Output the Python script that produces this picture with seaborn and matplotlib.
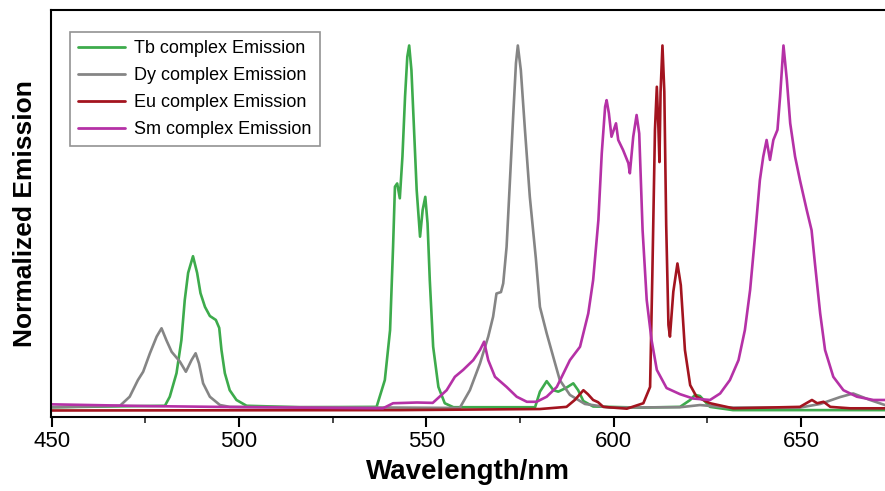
import numpy as np
import pandas as pd
import matplotlib
matplotlib.use("Agg")
import matplotlib.pyplot as plt
from matplotlib.ticker import MultipleLocator
import seaborn as sns

# ---------------- data ----------------
series_names = ["Tb complex Emission", "Dy complex Emission",
                "Eu complex Emission", "Sm complex Emission"]
series_colors = ["#3dab4c", "#858585", "#a3141f", "#b531a6"]

tb_x = [450, 480.2, 481.5, 483.3, 484.6, 485.5, 486.4, 487.7, 488.8, 489.7, 490.9,
        492.2, 493.8, 494.7, 495.3, 496.2, 497.5, 499.3, 502.0, 516.2, 536.7,
        538.9, 540.3, 541.1, 541.6, 542.2, 542.9, 543.6, 544.3, 544.9, 545.4,
        546.0, 546.7, 547.4, 548.3, 549.0, 549.7, 550.3, 550.9, 551.8, 553.2,
        554.9, 557.2, 579.0, 580.3, 582.1, 583.9, 585.2, 587.2, 589.2, 590.5,
        591.9, 594.5, 607.0, 617.7, 620.4, 621.7, 623.0, 625.7, 631.8, 672.4]
tb_y = [0.001, 0.005, 0.030, 0.095, 0.186, 0.297, 0.372, 0.418, 0.372, 0.316, 0.278,
        0.253, 0.242, 0.220, 0.159, 0.095, 0.048, 0.021, 0.005, 0.001, 0.002,
        0.076, 0.214, 0.444, 0.610, 0.619, 0.578, 0.693, 0.859, 0.969, 1.000,
        0.932, 0.767, 0.601, 0.472, 0.546, 0.582, 0.509, 0.352, 0.168, 0.057,
        0.012, 0.001, 0.001, 0.044, 0.073, 0.048, 0.044, 0.054, 0.067, 0.048,
        0.018, 0.003, 0.000, 0.002, 0.021, 0.035, 0.032, 0.002, -0.007, -0.007]

dy_x = [450, 468.2, 470.8, 473.0, 474.4, 476.2, 478.0, 479.3, 480.6, 482.0, 484.2,
        485.8, 487.3, 488.4, 489.3, 490.4, 492.2, 494.9, 497.5, 542.9, 558.9,
        561.6, 564.3, 566.5, 567.8, 568.7, 569.9, 570.5, 571.4, 572.3, 573.2,
        573.9, 574.4, 575.2, 576.3, 577.6, 579.2, 580.3, 582.1, 584.1, 585.6,
        588.3, 592.3, 599.0, 617.7, 623.0, 631.0, 649.7, 655.1, 660.4, 663.9,
        668.4, 672.4]
dy_y = [0.001, 0.005, 0.030, 0.076, 0.099, 0.150, 0.196, 0.219, 0.186, 0.154, 0.127,
        0.099, 0.131, 0.150, 0.122, 0.067, 0.030, 0.007, 0.002, 0.000, -0.001,
        0.048, 0.122, 0.196, 0.251, 0.315, 0.319, 0.343, 0.444, 0.628, 0.813,
        0.951, 1.000, 0.932, 0.767, 0.582, 0.413, 0.278, 0.205, 0.131, 0.076,
        0.035, 0.010, 0.000, 0.001, 0.007, 0.000, 0.000, 0.010, 0.029, 0.039,
        0.021, 0.007]

eu_x = [450, 542.9, 580.3, 587.4, 589.6, 591.9, 593.1, 594.5, 595.8, 597.2, 603.5,
        607.9, 609.7, 610.3, 611.0, 611.5, 611.9, 612.2, 612.5, 613.0, 613.5,
        614.0, 614.6, 615.0, 615.9, 617.0, 617.9, 619.0, 620.4, 622.1, 625.7,
        631.9, 649.7, 652.9, 654.3, 656.0, 657.8, 663.1, 672.4]
eu_y = [-0.008, -0.007, -0.004, 0.002, 0.021, 0.048, 0.037, 0.021, 0.015, 0.002, -0.003,
        0.012, 0.057, 0.366, 0.767, 0.886, 0.780, 0.678, 0.872, 1.000, 0.872,
        0.504, 0.228, 0.196, 0.320, 0.398, 0.338, 0.159, 0.062, 0.030, 0.012,
        -0.002, 0.002, 0.021, 0.012, 0.016, 0.002, -0.002, -0.002]

sm_x = [450, 476.2, 502.9, 538.4, 541.1, 547.5, 551.7, 555.4, 557.6, 559.8, 562.5,
        564.3, 565.4, 566.5, 568.3, 571.4, 574.1, 576.8, 579.4, 582.1, 584.8,
        588.3, 591.0, 593.2, 594.5, 595.9, 596.8, 597.7, 598.1, 598.7, 599.4,
        600.6, 601.2, 602.5, 603.9, 604.3, 605.2, 606.1, 606.8, 607.7, 608.8,
        610.1, 611.5, 614.1, 617.7, 621.2, 625.7, 628.4, 631.0, 633.3, 635.0,
        636.4, 637.7, 639.0, 639.9, 640.8, 641.7, 642.6, 643.7, 644.4, 645.3,
        646.2, 647.1, 648.4, 649.7, 651.5, 652.8, 653.7, 655.1, 656.4, 658.6,
        661.3, 664.9, 669.3, 672.4]
sm_y = [0.009, 0.004, 0.001, -0.002, 0.012, 0.014, 0.013, 0.048, 0.085, 0.104, 0.131,
        0.159, 0.182, 0.131, 0.085, 0.057, 0.030, 0.016, 0.016, 0.030, 0.057,
        0.131, 0.168, 0.260, 0.352, 0.518, 0.702, 0.831, 0.849, 0.813, 0.748,
        0.785, 0.739, 0.711, 0.675, 0.647, 0.748, 0.808, 0.757, 0.490, 0.297,
        0.186, 0.104, 0.054, 0.037, 0.025, 0.021, 0.039, 0.076, 0.131, 0.214,
        0.325, 0.472, 0.628, 0.693, 0.739, 0.684, 0.739, 0.767, 0.859, 1.000,
        0.905, 0.785, 0.693, 0.628, 0.546, 0.490, 0.398, 0.260, 0.159, 0.085,
        0.048, 0.030, 0.021, 0.021]

x_ticks = [450, 500, 550, 600, 650]
x_label = "Wavelength/nm"
y_label = "Normalized Emission"

# ---------------- build long-form table ----------------
frames = []
for name, xs, ys in zip(series_names, [tb_x, dy_x, eu_x, sm_x], [tb_y, dy_y, eu_y, sm_y]):
    frames.append(pd.DataFrame({"wavelength": xs, "emission": ys, "series": name}))
df = pd.concat(frames, ignore_index=True)

# ---------------- plot ----------------
sns.set_theme(style="white")
plt.rcParams["font.family"] = ["Liberation Sans", "DejaVu Sans"]

fig = plt.figure(figsize=(8.85, 4.91), dpi=100)
ax = fig.add_axes([51 / 885, 1 - 417 / 491, 1 - 51 / 885, (417 - 10) / 491])

sns.lineplot(data=df, x="wavelength", y="emission", hue="series",
             hue_order=series_names, palette=series_colors,
             sort=False, estimator=None, linewidth=1.9, ax=ax)

ax.set_xlim(449.8, 672.4)
ax.set_ylim(-0.026, 1.098)
ax.set_xticks(x_ticks)
ax.xaxis.set_minor_locator(MultipleLocator(25))
ax.set_yticks([])
ax.tick_params(axis="x", which="major", direction="out", length=7, width=1.5,
               bottom=True, labelsize=16, pad=3, colors="black")
ax.tick_params(axis="x", which="minor", direction="out", length=4, width=1.2, bottom=True)

for side in ["left", "bottom", "top"]:
    ax.spines[side].set_visible(True)
    ax.spines[side].set_color("black")
    ax.spines[side].set_linewidth(1.5)
ax.spines["right"].set_visible(False)

ax.set_xlabel(x_label, fontsize=20, fontweight="bold", labelpad=5, color="black")
ax.set_ylabel(y_label, fontsize=19, fontweight="bold", labelpad=10, color="black")

leg = ax.legend(loc="upper left", bbox_to_anchor=(19 / 834, 1 - 22 / 407),
                frameon=True, fancybox=False, edgecolor="#777777",
                prop={"size": 13},
                handlelength=2.6, handletextpad=0.5, labelspacing=0.55,
                borderpad=0.45, borderaxespad=0)
leg.get_frame().set_linewidth(1.2)
for line in leg.get_lines():
    line.set_linewidth(2.0)
for t in leg.get_texts():
    t.set_color("black")

fig.savefig("out.png", dpi=100)
